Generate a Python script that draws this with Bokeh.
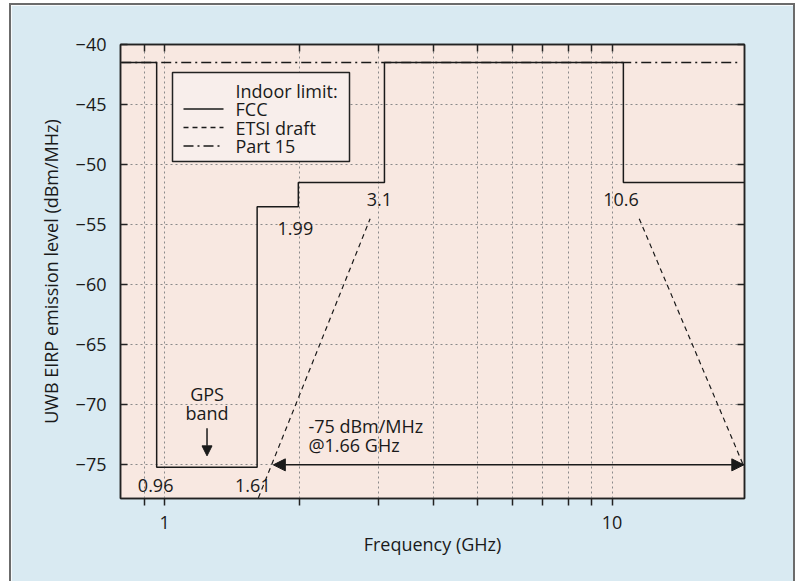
from bokeh.plotting import figure
from bokeh.models import (ColumnDataSource, FixedTicker, LogAxis, LinearAxis, Range1d,
                          Arrow, NormalHead, BoxAnnotation, Label)
from bokeh.core.properties import value
from bokeh.embed import file_html
from bokeh.resources import INLINE

FONT = "Open Sans"
FS = "18px"
INK = "#1a1a1a"

# ---- data ----
fcc_freq = [0.8, 0.96, 0.96, 1.61, 1.61, 1.99, 1.99, 3.1, 3.1, 10.6, 10.6, 20.0]
fcc_level = [-41.5, -41.5, -75.2, -75.2, -53.5, -53.5, -51.5, -51.5, -41.5, -41.5, -51.5, -51.5]

etsi_freq = [[1.62, 2.88], [11.5, 21.1]]
etsi_level = [[-77.75, -54.5], [-54.5, -77.75]]

part15_freq = [0.8, 19.1]
part15_level = [-41.5, -41.5]

y_ticks = [-75, -70, -65, -60, -55, -50, -45, -40]
y_tick_labels = ["\u221275", "\u221270", "\u221265", "\u221260", "\u221255", "\u221250", "\u221245", "\u221240"]
x_ticks = [1, 10]
x_tick_labels = ["1", "10"]
x_minor_ticks = [0.9, 2, 3, 4, 5, 6, 7, 8, 9]

note_text = ["0.96", "1.61", "1.99", "3.1", "10.6", "GPS", "band", "-75 dBm/MHz", "@1.66 GHz"]
note_freq = [0.955, 1.575, 1.96, 3.02, 10.47, 1.244, 1.244, 2.096, 2.096]
note_level = [-76.75, -76.75, -55.35, -52.9, -52.9, -69.1, -70.7, -71.8, -73.35]
note_align = ["center", "center", "center", "center", "center", "center", "center", "left", "left"]

gps_arrow_freq = [1.244]
gps_arrow_from = [-71.95]
gps_arrow_to = [-74.25]

limit_arrow_from = [1.75]
limit_arrow_to = [19.7]
limit_arrow_level = [-75.0]

legend_title = "Indoor limit:"
legend_labels = ["FCC", "ETSI draft", "Part 15"]
legend_dashes = ["solid", "5 4", "10 4 2 4"]

x_title = "Frequency (GHz)"
y_title = "UWB EIRP emission level (dBm/MHz)"

# ---- figure ----
p = figure(x_axis_type="log", x_range=Range1d(0.797, 19.77), y_range=Range1d(-77.8, -40),
           frame_width=624, frame_height=454,
           min_border_left=109, min_border_right=49, min_border_top=39, min_border_bottom=83,
           output_backend="svg", toolbar_location=None)
p.styles = {"margin-left": "9px", "margin-top": "3px",
            "border-left": "2px solid #6b6b6b", "border-top": "2px solid #6b6b6b",
            "border-right": "2px solid #6b6b6b"}
p.background_fill_color = "#f8e8e1"
p.border_fill_color = "#d9eaf2"
p.outline_line_color = "#222222"
p.outline_line_width = 1.5

xt = FixedTicker(ticks=x_ticks, minor_ticks=x_minor_ticks)
yt = FixedTicker(ticks=y_ticks)

x_over = {t: l for t, l in zip(x_ticks, x_tick_labels)}
y_over = {t: l for t, l in zip(y_ticks, y_tick_labels)}

def style_axis(ax):
    ax.axis_line_color = "#222222"
    ax.axis_line_width = 1.5
    ax.major_tick_line_color = "#222222"
    ax.major_tick_line_width = 1.5
    ax.minor_tick_line_color = "#222222"
    ax.minor_tick_line_width = 1.5
    ax.major_label_text_font = FONT
    ax.major_label_text_font_size = FS
    ax.major_label_text_color = INK
    ax.axis_label_text_font = FONT
    ax.axis_label_text_font_size = FS
    ax.axis_label_text_font_style = "normal"
    ax.axis_label_text_color = INK

xa = p.xaxis[0]
xa.ticker = xt
xa.major_label_overrides = x_over
xa.major_tick_in = 0
xa.major_tick_out = 7
xa.minor_tick_in = 0
xa.minor_tick_out = 7
xa.major_label_standoff = 10
xa.axis_label = x_title
xa.axis_label_standoff = 0
style_axis(xa)

ya = p.yaxis[0]
ya.ticker = yt
ya.major_label_overrides = y_over
ya.major_tick_in = 7
ya.major_tick_out = 0
ya.minor_tick_in = 0
ya.minor_tick_out = 0
ya.major_label_standoff = 14
ya.axis_label = y_title
ya.axis_label_standoff = 10
style_axis(ya)

top = LogAxis(ticker=xt, major_label_overrides={t: "" for t in x_ticks},
              major_tick_in=7, major_tick_out=0, minor_tick_in=7, minor_tick_out=0)
style_axis(top)
p.add_layout(top, "above")

right = LinearAxis(ticker=yt, major_label_overrides={t: "" for t in y_ticks},
                   major_tick_in=7, major_tick_out=0, minor_tick_in=0, minor_tick_out=0)
style_axis(right)
p.add_layout(right, "right")

for g in (p.xgrid[0], p.ygrid[0]):
    g.grid_line_color = "#8a8a8a"
    g.grid_line_dash = "2 3"
    g.grid_line_width = 1
p.xgrid[0].ticker = xt
p.ygrid[0].ticker = yt
p.xgrid[0].minor_grid_line_color = "#8a8a8a"
p.xgrid[0].minor_grid_line_dash = "2 3"
p.xgrid[0].minor_grid_line_width = 1

# ---- lines ----
fcc_src = ColumnDataSource(dict(x=fcc_freq, y=fcc_level))
p.line("x", "y", source=fcc_src, line_color=INK, line_width=1.5)
p.multi_line(xs=etsi_freq, ys=etsi_level, line_color=INK, line_width=1.2, line_dash=legend_dashes[1])
p.line(part15_freq, part15_level, line_color=INK, line_width=1.5, line_dash=legend_dashes[2])

# ---- annotations ----
note_src = ColumnDataSource(dict(x=note_freq, y=note_level, t=note_text, a=note_align))
p.text("x", "y", text="t", source=note_src, text_align="a", text_baseline="middle",
       text_font=value(FONT), text_font_size=FS, text_color=INK)

gps_src = ColumnDataSource(dict(x0=gps_arrow_freq, y0=gps_arrow_from, x1=gps_arrow_freq, y1=gps_arrow_to))
p.add_layout(Arrow(source=gps_src, x_start="x0", y_start="y0", x_end="x1", y_end="y1",
                   line_color=INK, line_width=1.5,
                   end=NormalHead(size=10, fill_color=INK, line_color=INK)))

lim_src = ColumnDataSource(dict(x0=limit_arrow_from, x1=limit_arrow_to, y=limit_arrow_level))
p.add_layout(Arrow(source=lim_src, x_start="x0", y_start="y", x_end="x1", y_end="y",
                   line_color=INK, line_width=1.5,
                   start=NormalHead(size=12, fill_color=INK, line_color=INK),
                   end=NormalHead(size=12, fill_color=INK, line_color=INK)))

# ---- legend (drawn in frame screen units, y measured up from frame bottom) ----
LG_L, LG_R, LG_T, LG_B = 52, 229, 426, 337
ROW0, ROWH = 408, 18.5
p.add_layout(BoxAnnotation(left=LG_L, right=LG_R, top=LG_T, bottom=LG_B,
                           left_units="screen", right_units="screen",
                           top_units="screen", bottom_units="screen",
                           fill_color="#f8eeeb", fill_alpha=1,
                           line_color="#222222", line_width=1.5, line_alpha=1))
p.add_layout(Label(x=115, y=ROW0, x_units="screen", y_units="screen", text=legend_title,
                   text_baseline="middle", text_font=FONT, text_font_size=FS, text_color=INK))
for i, (lab, dash) in enumerate(zip(legend_labels, legend_dashes)):
    yy = ROW0 - ROWH * (i + 1)
    p.add_layout(Arrow(x_start=63, y_start=yy, x_end=103, y_end=yy,
                       start_units="screen", end_units="screen", end=None,
                       line_color=INK, line_width=1.5, line_dash=dash))
    p.add_layout(Label(x=115, y=yy, x_units="screen", y_units="screen", text=lab,
                       text_baseline="middle", text_font=FONT, text_font_size=FS, text_color=INK))

open("out.html", "w").write(file_html(p, INLINE))
